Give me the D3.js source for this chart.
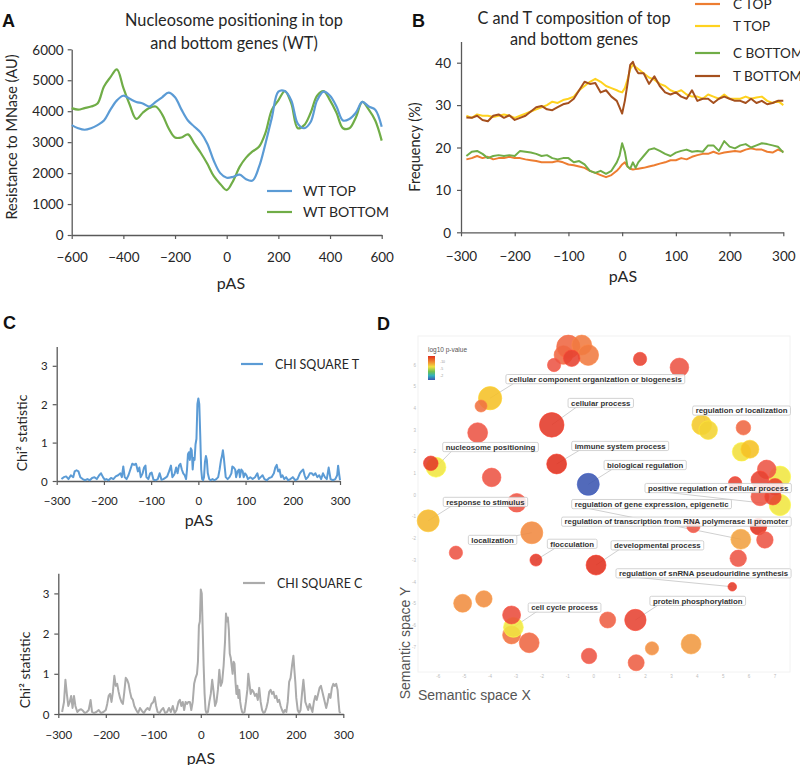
<!DOCTYPE html>
<html><head><meta charset="utf-8">
<script src="https://cdn.jsdelivr.net/npm/d3@7"></script>
<style>body{margin:0;background:#fff} svg{display:block}</style>
</head><body>
<svg id="c" width="800" height="765"></svg>
<script>
// ---------- Panel A data ----------
const A_X = [-600,-575,-550,-525,-500,-475,-450,-425,-400,-375,-350,-325,-300,-275,-250,-225,-200,-175,-150,-125,-100,-75,-50,-25,0,25,50,75,100,125,150,175,200,225,250,275,300,325,350,375,400,425,450,475,500,525,550,575,600];
const A_WT_TOP = [3550,3450,3400,3450,3550,3700,4050,4350,4500,4400,4300,4250,4150,4300,4450,4600,4450,4050,3700,3500,3300,2950,2400,2000,1850,1880,1950,1800,1760,2200,2950,3800,4630,4650,4350,3600,3450,3650,4350,4630,4500,4150,3700,3750,3950,4300,4150,4050,3500];
const A_WT_BOTTOM = [4100,4050,4100,4150,4250,4800,5100,5350,4750,4200,3750,3950,4100,4150,3900,3450,3150,3150,3250,2950,2650,2300,1900,1650,1450,1750,2200,2500,2700,2850,3300,4050,4350,4650,4250,3450,3550,3950,4500,4650,4350,3950,3450,3450,3800,4300,4050,3700,3050];
const A_Y_TICKS = [0,1000,2000,3000,4000,5000,6000];
const A_X_TICKS = [-600,-400,-200,0,200,400,600];

// ---------- Panel B data ----------
const B_X = [-290,-280,-270,-260,-250,-240,-230,-220,-210,-200,-190,-180,-170,-160,-150,-140,-130,-120,-110,-100,-90,-80,-70,-60,-50,-40,-30,-20,-10,-5,0,5,10,15,20,25,30,40,50,60,70,80,90,100,110,120,130,140,150,160,170,180,190,200,210,220,230,240,250,260,270,280,290,300];
const B_C_TOP = [17.2,17.5,18,17.5,17.8,17.2,17.5,17.5,17.8,17.5,17.5,17.2,17,16.8,16.5,16.5,16.5,16.8,16.5,16,15.8,15.5,15.2,14.5,14,13.5,13,13.5,14.5,15.2,16,16.5,15.5,15,14.8,14.9,15,15.2,15.5,15.8,16.2,16.5,17,17,17.5,17.2,17.8,18.2,18.5,18.5,19,18.5,18.8,19,19.2,19,19.5,19.8,19.5,19.5,19,18.8,19.5,19];
const B_T_TOP = [27.5,27,27.8,27.5,27.5,27.2,27.5,27.8,27.5,27,27.5,28,28.5,29,29.5,30,30.8,30.5,31.2,31.5,32,33.5,34.5,35.5,36.2,35.5,34.5,34,33.5,33.2,33,34,36,38.5,39.5,39,38.5,37.5,36.5,36,35,34.5,33.5,33,33.5,32.5,32,32,31.5,32.5,32,31.5,32.5,31.5,31.5,31.5,32,31.5,31.8,32,31,30.5,31,30];
const B_C_BOTTOM = [18,19,19.2,18.5,17.5,18,18.2,18,18.2,18,19.2,19,18.8,18.5,18,18.2,17.5,17.2,17.5,17.5,16.5,16.8,16,14.5,14,14.5,13.8,14.5,16.5,18,21,19,15.5,15,16.5,15.2,16.5,18,19.5,19.8,19.2,18.5,18,18.8,19.2,19.5,19,19.2,19,20.5,20.5,19.2,21.5,20.2,19.8,20.5,20.8,20,20.5,21,20.8,20.5,20.2,18.8];
const B_T_BOTTOM = [27.1,27,27.5,26.5,26.2,27.5,27.8,27,27.6,26.5,27,27.5,28.5,29.5,29.8,29,28.8,29.5,30.2,30.5,31.5,33.5,35.5,35,35.2,33,33.5,32,31,29.5,28,31,35,39.5,40.2,38.5,37.5,37.5,35,36.8,34.5,33,32.5,33,32,31.5,33.5,31,31.5,31.5,30.5,31.5,32,31.5,31,31,30.5,31.5,30.5,31,30.2,30.5,31,31];
const B_SERIES = ["C TOP","T TOP","C BOTTOM","T BOTTOM"];
const B_Y_TICKS = [0,10,20,30,40];
const B_X_TICKS = [-300,-200,-100,0,100,200,300];

// ---------- Panel C data ----------
const CHI_T = [[-290,0.05],[-285,0.1],[-280,0.12],[-275,0.05],[-270,0.15],[-265,0.1],[-262,0.25],[-258,0.28],[-254,0.25],[-250,0.1],[-245,0.05],[-240,0.02],[-235,0.05],[-230,0.02],[-225,0.08],[-220,0.1],[-215,0.05],[-210,0.15],[-206,0.2],[-202,0.1],[-198,0.03],[-195,0.05],[-190,0.02],[-185,0.08],[-180,0.05],[-175,0.12],[-170,0.15],[-165,0.2],[-162,0.1],[-159,0.38],[-156,0.1],[-152,0.05],[-148,0.15],[-144,0.3],[-140,0.45],[-136,0.42],[-132,0.45],[-128,0.25],[-125,0.35],[-122,0.1],[-118,0.2],[-115,0.35],[-112,0.4],[-110,0.1],[-106,0.05],[-102,0.2],[-99,0.22],[-95,0.03],[-90,0.02],[-86,0.05],[-82,0.2],[-78,0.03],[-74,0.05],[-70,0.08],[-66,0.12],[-62,0.25],[-58,0.4],[-55,0.1],[-52,0.15],[-50,0.2],[-47,0.35],[-44,0.2],[-41,0.4],[-38,0.45],[-35,0.3],[-32,0.2],[-29,0.15],[-26,0.05],[-24,0.3],[-22,0.7],[-20,0.75],[-18,0.55],[-16,0.85],[-14,0.8],[-12,0.3],[-10,0.6],[-8,0.55],[-6,0.95],[-4,1.1],[-2,2.0],[0,2.15],[2,2.0],[4,1.2],[6,0.3],[8,0.05],[10,0.02],[12,0.1],[14,0.5],[16,0.65],[18,0.55],[20,0.2],[23,0.05],[26,0.02],[30,0.05],[34,0.02],[38,0.05],[42,0.1],[45,0.3],[48,0.55],[50,0.65],[52,0.8],[54,0.6],[56,0.35],[58,0.1],[62,0.05],[66,0.1],[70,0.2],[72,0.38],[75,0.35],[78,0.3],[80,0.1],[83,0.25],[86,0.3],[88,0.1],[91,0.3],[94,0.25],[96,0.1],[99,0.2],[102,0.15],[105,0.05],[110,0.1],[115,0.05],[120,0.1],[125,0.2],[128,0.05],[132,0.1],[136,0.15],[140,0.05],[145,0.02],[150,0.08],[155,0.1],[160,0.2],[163,0.35],[166,0.42],[169,0.25],[172,0.3],[175,0.1],[178,0.15],[182,0.05],[186,0.1],[190,0.02],[195,0.05],[200,0.1],[205,0.02],[210,0.05],[215,0.2],[218,0.25],[222,0.3],[225,0.15],[228,0.05],[232,0.1],[236,0.2],[240,0.2],[244,0.15],[248,0.2],[252,0.1],[256,0.15],[260,0.05],[264,0.2],[268,0.1],[272,0.05],[276,0.35],[280,0.05],[285,0.02],[290,0.05],[294,0.15],[296,0.4],[298,0.2],[300,0.02]];
const CHI_C = [[-292,0.05],[-288,0.3],[-285,0.85],[-282,0.5],[-279,0.2],[-276,0.3],[-273,0.45],[-270,0.15],[-267,0.45],[-264,0.2],[-260,0.05],[-256,0.1],[-252,0.12],[-248,0.08],[-244,0.02],[-240,0.05],[-236,0.1],[-232,0.35],[-229,0.05],[-225,0.02],[-220,0.05],[-215,0.1],[-210,0.02],[-205,0.05],[-200,0.1],[-197,0.25],[-194,0.45],[-191,0.5],[-188,0.3],[-185,0.55],[-182,0.95],[-179,0.7],[-176,0.75],[-173,0.55],[-170,0.4],[-167,0.3],[-164,0.25],[-161,0.55],[-158,0.9],[-155,0.85],[-152,0.75],[-149,0.55],[-146,0.4],[-143,0.35],[-140,0.2],[-136,0.1],[-132,0.02],[-128,0.15],[-124,0.08],[-120,0.02],[-116,0.1],[-112,0.15],[-108,0.1],[-104,0.25],[-100,0.3],[-97,0.42],[-94,0.2],[-91,0.05],[-87,0.02],[-83,0.1],[-79,0.15],[-75,0.02],[-71,0.05],[-67,0.15],[-63,0.05],[-59,0.2],[-55,0.02],[-51,0.1],[-47,0.3],[-44,0.35],[-41,0.2],[-38,0.3],[-35,0.1],[-32,0.3],[-29,0.25],[-26,0.3],[-23,0.3],[-20,0.1],[-17,0.3],[-14,0.75],[-11,0.9],[-8,1.0],[-6,1.3],[-4,2.2],[-2,2.3],[0,3.1],[2,3.0],[4,2.1],[6,1.2],[8,0.5],[10,0.1],[12,0.02],[15,0.05],[18,0.3],[21,0.5],[24,0.85],[27,0.55],[30,0.2],[33,0.3],[36,0.6],[39,1.1],[42,0.7],[45,0.8],[48,1.2],[51,1.8],[53,2.5],[55,2.3],[57,2.4],[59,2.1],[61,1.5],[63,1.4],[65,1.2],[67,1.0],[69,1.3],[71,1.25],[73,0.8],[75,0.5],[77,0.7],[79,0.4],[81,0.6],[83,0.3],[85,0.15],[87,0.05],[89,0.02],[92,0.05],[95,0.3],[98,0.6],[100,1.0],[102,0.8],[105,0.5],[108,0.6],[111,0.55],[114,0.45],[117,0.5],[120,0.35],[123,0.65],[126,0.3],[129,0.1],[132,0.02],[135,0.05],[138,0.15],[141,0.3],[144,0.55],[147,0.6],[150,0.5],[153,0.55],[156,0.4],[159,0.45],[162,0.3],[165,0.35],[168,0.2],[171,0.1],[174,0.02],[177,0.1],[180,0.05],[183,0.3],[186,0.8],[189,0.9],[192,1.2],[195,1.45],[197,1.1],[199,0.8],[201,0.4],[204,0.1],[207,0.02],[210,0.1],[213,0.5],[216,0.85],[218,0.6],[220,0.3],[223,0.2],[226,0.1],[229,0.25],[232,0.15],[235,0.05],[238,0.3],[241,0.45],[244,0.35],[247,0.5],[250,0.65],[253,0.7],[255,0.6],[258,0.45],[261,0.3],[264,0.15],[267,0.3],[270,0.5],[273,0.4],[276,0.65],[279,0.75],[282,0.7],[285,0.75],[288,0.6],[290,0.3],[292,0.05],[294,0.02]];
const C_Y_TICKS = [0,1,2,3];
const C_X_TICKS = [-300,-200,-100,0,100,200,300];

// ---------- Panel D data (semantic x, semantic y, log10 p-value, log size) ----------
const D_X   = [-1.17,-0.98,-0.46,-0.21,-0.85,-1.53,1.79,3.31,-4.0,-4.35,-1.62,-4.48,-6.09,-6.29,-1.43,-3.94,-0.21,-2.97,-6.39,-2.39,4.17,4.42,5.78,5.71,6.03,7.19,7.19,6.68,5.46,6.42,7.0,6.42,6.92,3.85,6.36,5.68,6.61,-5.32,-2.23,0.09,5.58,5.35,-5.06,-4.24,-3.17,-3.1,-3.17,-2.49,0.54,1.61,-0.18,1.64,2.25,3.76];
const D_Y   = [6.46,6.84,6.92,6.46,6.31,6.0,6.28,5.89,4.47,4.11,3.24,2.88,1.29,1.47,1.44,0.82,0.5,-0.35,-1.18,-1.73,3.24,3.0,3.11,2.0,2.12,0.85,-0.45,1.19,0.55,0.7,0.39,-0.07,-0.07,-1.42,-1.45,-2.03,-2.06,-2.65,-2.99,-3.22,-2.91,-4.22,-4.98,-4.78,-6.44,-6.09,-5.52,-6.8,-5.75,-5.75,-7.41,-7.72,-7.06,-6.86];
const D_P   = [-7,-7,-6,-6,-9,-8,-9,-8,-4,-6.5,-9.5,-8,-3,-9.5,-10,-8,-1,-8,-4.3,-5.6,-3.8,-3.5,-7,-3.2,-4,-3,-3,-8,-9,-9,-9,-8,-9,-8,-10,-5,-8,-8,-9.5,-10,-8,-9.5,-5.5,-5.5,-6.5,-3,-8.5,-7,-7.5,-9,-8,-7.5,-5.5,-5.2];
const D_SIZE= [3.5,4.6,3.8,4.0,3.0,2.25,2.25,3.5,4.6,1.95,4.9,3.8,3.8,2.55,3.8,3.5,4.3,3.5,4.3,4.3,3.8,3.5,2.55,3.5,3.35,4.15,4.15,3.5,2.25,3.35,3.0,3.35,3.0,2.25,3.0,3.8,3.0,2.25,1.95,3.8,3.0,1.15,3.35,3.0,3.35,3.8,3.35,3.8,2.9,4.15,2.75,2.9,2.25,3.8];
const D_LABELS = ["cellular component organization or biogenesis","cellular process","regulation of localization","nucleosome positioning","immune system process","biological regulation","positive regulation of cellular process","response to stimulus","regulation of gene expression, epigenetic","regulation of transcription from RNA polymerase II promoter","localization","flocculation","developmental process","regulation of snRNA pseudouridine synthesis","protein phosphorylation","cell cycle process"];
const D_LABEL_X = [-3.39,-0.99,3.82,-5.83,-0.85,0.4,1.98,-5.81,-0.85,-1.24,-4.84,-1.79,0.67,0.86,2.17,-2.53];
const D_LABEL_Y = [5.35,4.25,3.9,2.22,2.27,1.39,0.33,-0.31,-0.41,-1.22,-2.06,-2.24,-2.31,-3.6,-4.87,-5.18];
const D_LABEL_TERM = [8,10,21,12,14,16,26,18,35,33,19,38,39,41,49,45];
const D_X_TICKS = [-6,-5,-4,-3,-2,-1,0,1,2,3,4,5,6,7];
const D_Y_TICKS = [6,5,4,3,2,1,0,-1,-2,-3,-4,-5,-6,-7];

// ---------- drawing ----------
const svg = d3.select('#c');
const F = 'Lato, "Open Sans", sans-serif';
const AXC = '#595959';
const TXT = '#262626';

function axes(x, y, xt, yt, fs, xLabY, yLabX) {
  const gx = svg.append('g').attr('transform', `translate(0,${y(0)})`)
    .call(d3.axisBottom(x).tickValues(xt).tickFormat(d3.format('d')).tickSize(4).tickSizeOuter(0));
  const gy = svg.append('g').attr('transform', `translate(${x.range()[0]},0)`)
    .call(d3.axisLeft(y).tickValues(yt).tickFormat(d3.format('d')).tickSize(4).tickSizeOuter(0));
  [gx, gy].forEach(g => {
    g.select('.domain').attr('stroke', AXC).attr('stroke-width', 1.3);
    g.selectAll('.tick line').attr('stroke', AXC).attr('stroke-width', 1.2);
    g.selectAll('text').attr('font-family', F).attr('font-size', fs).attr('fill', TXT);
  });
  gx.selectAll('text').attr('y', xLabY).attr('dy', null);
  gy.selectAll('text').attr('x', yLabX).attr('dy', '0.35em');
}
function text(x, y, s, o = {}) {
  const t = svg.append('text').attr('x', x).attr('y', y).text(s)
    .attr('font-family', o.f || F).attr('font-size', o.fs || 13)
    .attr('fill', o.c || TXT).attr('text-anchor', o.a || 'start');
  if (o.w) t.attr('font-weight', o.w);
  if (o.r) t.attr('transform', `rotate(-90,${x},${y})`);
  return t;
}
function legendLine(x1, x2, y, col, label, fs, tx) {
  svg.append('line').attr('x1', x1).attr('x2', x2).attr('y1', y).attr('y2', y)
    .attr('stroke', col).attr('stroke-width', 2.2);
  text(tx, y + fs * 0.36, label, {fs});
}

// Panel letters
text(2, 27, 'A', {f: 'Liberation Sans, Arial, sans-serif', fs: 18, w: 'bold', c: '#111'});
text(412, 27, 'B', {f: 'Liberation Sans, Arial, sans-serif', fs: 18, w: 'bold', c: '#111'});
text(3, 329, 'C', {f: 'Liberation Sans, Arial, sans-serif', fs: 18, w: 'bold', c: '#111'});
text(377, 330, 'D', {f: 'Liberation Sans, Arial, sans-serif', fs: 18, w: 'bold', c: '#111'});

// ===== Panel A =====
const xA = d3.scaleLinear().domain([-600, 600]).range([71.7, 381.7]);
const yA = d3.scaleLinear().domain([0, 6000]).range([235, 49.3]);
axes(xA, yA, A_X_TICKS, A_Y_TICKS, 13.5, 27, -8);
text(234, 26, 'Nucleosome positioning in top', {fs: 16.3, a: 'middle'});
text(234, 49, 'and bottom genes (WT)', {fs: 16.3, a: 'middle'});
text(231, 289, 'pAS', {fs: 16, a: 'middle'});
text(17, 137, 'Resistance to MNase (AU)', {fs: 14.5, a: 'middle', r: true});
const lineA = d3.line().x((d, i) => xA(A_X[i])).y(d => yA(d)).curve(d3.curveCatmullRom);
svg.append('path').datum(A_WT_BOTTOM).attr('d', lineA).attr('fill', 'none').attr('stroke', '#70AD47').attr('stroke-width', 2.2);
svg.append('path').datum(A_WT_TOP).attr('d', lineA).attr('fill', 'none').attr('stroke', '#5B9BD5').attr('stroke-width', 2.2);
legendLine(267, 292, 191, '#5B9BD5', 'WT TOP', 14, 303);
legendLine(267, 292, 212, '#70AD47', 'WT BOTTOM', 14, 303);

// ===== Panel B =====
const xB = d3.scaleLinear().domain([-300, 300]).range([461, 783.3]);
const yB = d3.scaleLinear().domain([0, 45]).range([232.3, 41.5]);
axes(xB, yB, B_X_TICKS, B_Y_TICKS, 13.5, 29, -10);
text(574, 24, 'C and T composition of top', {fs: 16.3, a: 'middle'});
text(574, 45, 'and bottom genes', {fs: 16.3, a: 'middle'});
text(623, 282, 'pAS', {fs: 16, a: 'middle'});
text(420, 147, 'Frequency (%)', {fs: 14.5, a: 'middle', r: true});
const lineB = d3.line().x((d, i) => xB(B_X[i])).y(d => yB(d));
const B_COLORS = ['#ED7D31', '#FFD21F', '#70AD47', '#A5501E'];
[B_C_TOP, B_T_TOP, B_C_BOTTOM, B_T_BOTTOM].forEach((s, k) => {
  svg.append('path').datum(s).attr('d', lineB).attr('fill', 'none')
    .attr('stroke', B_COLORS[k]).attr('stroke-width', 2).attr('stroke-linejoin', 'round');
});
[4, 26, 53, 76].forEach((yy, k) => legendLine(695, 720, yy, B_COLORS[k], B_SERIES[k], 13.5, 733));

// ===== Panel C (top) =====
const xC1 = d3.scaleLinear().domain([-300, 300]).range([56.7, 340]);
const yC1 = d3.scaleLinear().domain([0, 3.5]).range([481, 346.6]);
axes(xC1, yC1, C_X_TICKS, C_Y_TICKS, 11.5, 24, -9);
svg.append('path').datum(CHI_T)
  .attr('d', d3.line().x(d => xC1(d[0])).y(d => yC1(d[1])))
  .attr('fill', 'none').attr('stroke', '#5B9BD5').attr('stroke-width', 2).attr('stroke-linejoin', 'round');
text(199, 526, 'pAS', {fs: 16, a: 'middle'});
text(27, 433, 'Chi² statistic', {fs: 14, a: 'middle', r: true});
legendLine(241, 263, 364, '#5B9BD5', 'CHI SQUARE T', 12.5, 275);

// ===== Panel C (bottom) =====
const xC2 = d3.scaleLinear().domain([-300, 300]).range([58.3, 343.3]);
const yC2 = d3.scaleLinear().domain([0, 3.5]).range([714, 573.3]);
axes(xC2, yC2, C_X_TICKS, C_Y_TICKS, 11.5, 25, -9);
svg.append('path').datum(CHI_C)
  .attr('d', d3.line().x(d => xC2(d[0])).y(d => yC2(d[1])))
  .attr('fill', 'none').attr('stroke', '#ABABAB').attr('stroke-width', 2).attr('stroke-linejoin', 'round');
text(201, 764, 'pAS', {fs: 16, a: 'middle'});
text(30, 670, 'Chi² statistic', {fs: 14, a: 'middle', r: true});
legendLine(243, 265, 583, '#ABABAB', 'CHI SQUARE C', 12.5, 277);

// ===== Panel D =====
const xD = d3.scaleLinear().domain([-6, 7]).range([438.3, 775]);
const yD = d3.scaleLinear().domain([6, -7]).range([365, 647.1]);
const rD = d3.scaleLinear().domain([1, 5]).range([4, 12.5]);
const cD = d3.scaleLinear().domain([-10, -8, -6, -5, -4, -3, -2, -1])
  .range(['#e0301e', '#ec5444', '#f07a40', '#f0a040', '#f5c025', '#f0e640', '#5cb860', '#3a55b0']);
const DF = '"Liberation Sans", Arial, sans-serif';
svg.append('rect').attr('x', 418).attr('y', 336).attr('width', 372).attr('height', 336)
  .attr('fill', '#fff').attr('stroke', '#f2f2f2');
D_X_TICKS.forEach(v => text(xD(v), 678, v, {f: DF, fs: 4.5, c: '#bbb', a: 'middle'}));
D_Y_TICKS.forEach(v => text(416, yD(v) + 1.5, v, {f: DF, fs: 4.5, c: '#bbb', a: 'end'}));
text(418, 700, 'Semantic space X', {f: DF, fs: 14, c: '#555'});
text(410, 643, 'Semantic space Y', {f: DF, fs: 14, c: '#555', a: 'middle', r: true});

// legend
const grad = svg.append('defs').append('linearGradient').attr('id', 'pg')
  .attr('x1', 0).attr('x2', 0).attr('y1', 0).attr('y2', 1);
[['0%', '#e0301e'], ['25%', '#f08a30'], ['45%', '#f0e040'], ['65%', '#70c050'], ['82%', '#30b0c0'], ['100%', '#3a55b0']]
  .forEach(s => grad.append('stop').attr('offset', s[0]).attr('stop-color', s[1]));
text(428, 352, 'log10 p-value', {f: DF, fs: 6.5, c: '#555'});
svg.append('rect').attr('x', 428).attr('y', 356).attr('width', 7).attr('height', 24).attr('fill', 'url(#pg)');
['-10', '-5', '-2'].forEach((s, i) => text(440, 363 + i * 7, s, {f: DF, fs: 3.5, c: '#999'}));

// connectors, bubbles, labels
const lines = svg.append('g');
D_LABELS.forEach((s, i) => {
  const t = D_LABEL_TERM[i];
  lines.append('line').attr('x1', xD(D_LABEL_X[i]) + 10).attr('y1', yD(D_LABEL_Y[i]) + 3)
    .attr('x2', xD(D_X[t])).attr('y2', yD(D_Y[t])).attr('stroke', '#d0d0d0').attr('stroke-width', 1);
});
const bub = svg.append('g');
D_X.forEach((v, i) => {
  const col = cD(D_P[i]);
  bub.append('circle').attr('cx', xD(v)).attr('cy', yD(D_Y[i])).attr('r', rD(D_SIZE[i]))
    .attr('fill', col).attr('fill-opacity', 0.88)
    .attr('stroke', d3.color(col).brighter(0.3)).attr('stroke-opacity', 0.6).attr('stroke-width', 1);
});
const labG = svg.append('g');
D_LABELS.forEach((s, i) => {
  const x0 = xD(D_LABEL_X[i]), y0 = yD(D_LABEL_Y[i]);
  const g = labG.append('g');
  const t = g.append('text').attr('x', x0 + 3).attr('y', y0 + 2.8).text(s)
    .attr('font-family', DF).attr('font-size', 7.8).attr('font-weight', 'bold').attr('fill', '#333');
  const w = t.node().getComputedTextLength();
  g.insert('rect', 'text').attr('x', x0).attr('y', y0 - 4.6).attr('width', w + 6).attr('height', 9.2)
    .attr('rx', 1.5).attr('fill', '#fff').attr('fill-opacity', 0.85).attr('stroke', '#c8c8c8').attr('stroke-width', 0.8);
});
</script>
</body></html>
